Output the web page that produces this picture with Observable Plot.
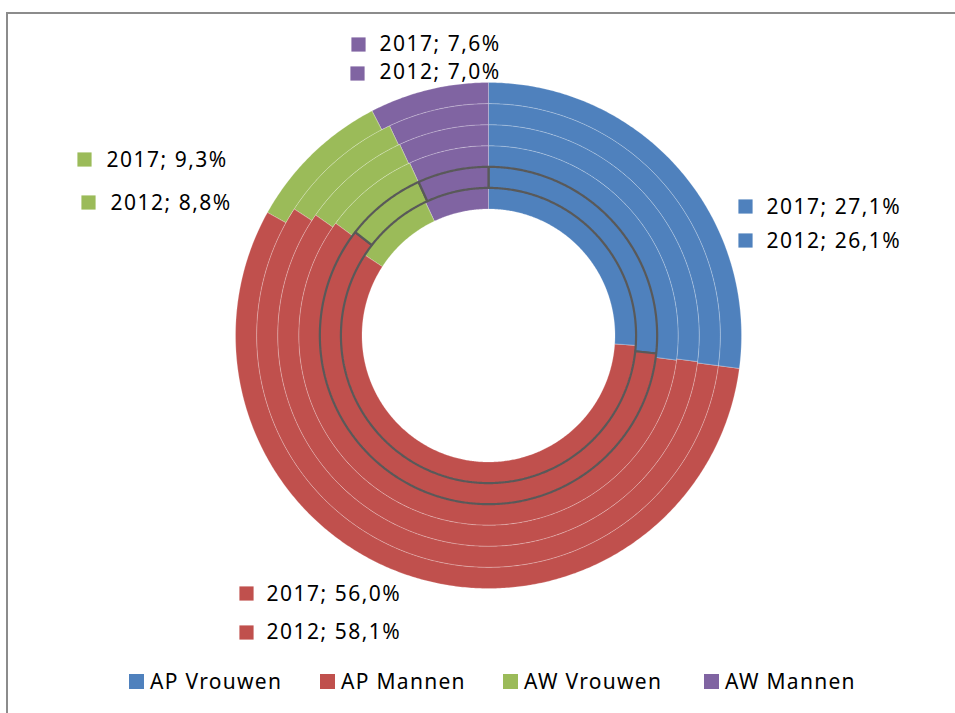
<!DOCTYPE html>
<html>
<head>
<meta charset="utf-8">
<script src="https://cdn.jsdelivr.net/npm/d3@7"></script>
<script src="https://cdn.jsdelivr.net/npm/@observablehq/plot@0.6"></script>
<style>
  html, body { margin: 0; padding: 0; background: #fff; overflow: hidden; }
  #wrap { position: relative; width: 955px; height: 713px; }
  #frame { position: absolute; left: 6px; top: 12px; width: 1000px; height: 800px;
           border-left: 2px solid #8c8c8c; border-top: 2px solid #8c8c8c; pointer-events: none; }
  #legend { position: absolute; left: 0; top: 667px; width: 955px; height: 28px;
            font-family: "Noto Sans", sans-serif; font-size: 21px; letter-spacing: 1.3px; color: #000; }
  .li { position: absolute; top: 0; height: 28px; display: flex; align-items: center; white-space: nowrap; }
  .sw { width: 15px; height: 15px; margin-right: 6px; flex: none; }
</style>
</head>
<body>
<div id="wrap">
  <div id="chart"></div>
  <div id="legend"></div>
  <div id="frame"></div>
</div>
<script>
// ---- data ----
const years = ["2012", "2013", "2014", "2015", "2016", "2017"];
const categories = ["AP Vrouwen", "AP Mannen", "AW Vrouwen", "AW Mannen"];
const apVrouwen = [26.1, 26.7, 27.1, 27.0, 27.1, 27.1];
const apMannen  = [58.1, 58.8, 58.0, 57.7, 57.1, 56.0];
const awVrouwen = [8.8, 7.7, 8.1, 8.4, 8.8, 9.3];
const awMannen  = [7.0, 6.8, 6.8, 6.9, 7.0, 7.6];
const labelYears = ["2017", "2012"];
const colors = ["#4F81BD", "#C0504D", "#9BBB59", "#8064A2"];

// ---- layout ----
const CX = 488, CY = 335, R = 253;       // pixels
const HOLE = 126.5, RING = 21.08;        // pixels
const outlinedRing = 1;                  // ring index drawn with dark outline
const labelLayout = {                    // square centre & text start (pixels), per category, per labelled year
  "AP Vrouwen": [{sx: 745, sy: 206, tx: 766, ty: 207}, {sx: 745, sy: 240, tx: 766, ty: 241}],
  "AP Mannen":  [{sx: 246, sy: 593, tx: 266, ty: 594}, {sx: 246, sy: 632, tx: 266, ty: 632}],
  "AW Vrouwen": [{sx: 84,  sy: 159, tx: 106, ty: 160}, {sx: 88,  sy: 202, tx: 110, ty: 203}],
  "AW Mannen":  [{sx: 358, sy: 44,  tx: 379, ty: 44},  {sx: 357, sy: 73,  tx: 379, ty: 72}]
};
const legendX = [129, 320, 503, 704];

const seriesValues = [apVrouwen, apMannen, awVrouwen, awMannen];

// slices
const slices = [];
years.forEach((yr, i) => {
  let cum = 0;
  seriesValues.forEach((vals, k) => {
    slices.push({year: yr, ring: i, cat: categories[k], value: vals[i], a0: cum, a1: cum + vals[i]});
    cum += vals[i];
  });
});

// polygon points for each slice (data units: radius 1 = outer edge)
function polyPoints(s) {
  const r0 = (HOLE + RING * s.ring) / R, r1 = (HOLE + RING * (s.ring + 1)) / R;
  const t0 = s.a0 / 100 * 2 * Math.PI, t1 = s.a1 / 100 * 2 * Math.PI;
  const n = Math.max(2, Math.ceil((t1 - t0) / (Math.PI / 360)));
  const pts = [];
  const id = s.year + "|" + s.cat;
  for (let j = 0; j <= n; j++) {
    const t = t0 + (t1 - t0) * j / n;
    pts.push({id, cat: s.cat, ring: s.ring, x: r1 * Math.sin(t), y: r1 * Math.cos(t)});
  }
  for (let j = n; j >= 0; j--) {
    const t = t0 + (t1 - t0) * j / n;
    pts.push({id, cat: s.cat, ring: s.ring, x: r0 * Math.sin(t), y: r0 * Math.cos(t)});
  }
  return pts;
}
const plainPts = slices.filter(s => s.ring !== outlinedRing).flatMap(polyPoints);
const outlinedPts = slices.filter(s => s.ring === outlinedRing).flatMap(polyPoints);

// labels
const fmt = v => v.toFixed(1).replace(".", ",") + "%";
const labels = [];
categories.forEach((c, k) => {
  labelYears.forEach((yr, j) => {
    const i = years.indexOf(yr);
    const L = labelLayout[c][j];
    labels.push({cat: c, text: yr + "; " + fmt(seriesValues[k][i]),
      sx: (L.sx - CX) / R, sy: (CY - L.sy) / R, tx: (L.tx - CX) / R, ty: (CY - L.ty) / R});
  });
});

const W = 955, H = 664;
const chart = Plot.plot({
  width: W, height: H,
  margin: 0,
  x: {domain: [-1, 1], range: [CX - R, CX + R], axis: null},
  y: {domain: [-1, 1], range: [CY + R, CY - R], axis: null},
  color: {domain: categories, range: colors},
  style: {fontFamily: "'Noto Sans', sans-serif", background: "transparent", overflow: "visible"},
  marks: [
    Plot.line(plainPts, {x: "x", y: "y", z: "id", fill: "cat", curve: "linear-closed",
      stroke: "#ffffff", strokeOpacity: 0.32, strokeWidth: 0.7}),
    Plot.line(outlinedPts, {x: "x", y: "y", z: "id", fill: "cat", curve: "linear-closed",
      stroke: "#595959", strokeWidth: 2.2, strokeLinejoin: "miter"}),
    Plot.dot(labels, {x: "sx", y: "sy", symbol: "square", r: 8, fill: "cat"}),
    Plot.text(labels, {x: "tx", y: "ty", text: "text", textAnchor: "start", fontSize: 21,
      fill: "#000"})
  ]
});
chart.style.letterSpacing = "1.5px";
document.getElementById("chart").appendChild(chart);

const leg = document.getElementById("legend");
categories.forEach((c, k) => {
  const item = document.createElement("div");
  item.className = "li";
  item.style.left = legendX[k] + "px";
  const sw = document.createElement("span");
  sw.className = "sw";
  sw.style.background = colors[k];
  const tx = document.createElement("span");
  tx.textContent = c;
  item.appendChild(sw); item.appendChild(tx);
  leg.appendChild(item);
});
</script>
</body>
</html>
